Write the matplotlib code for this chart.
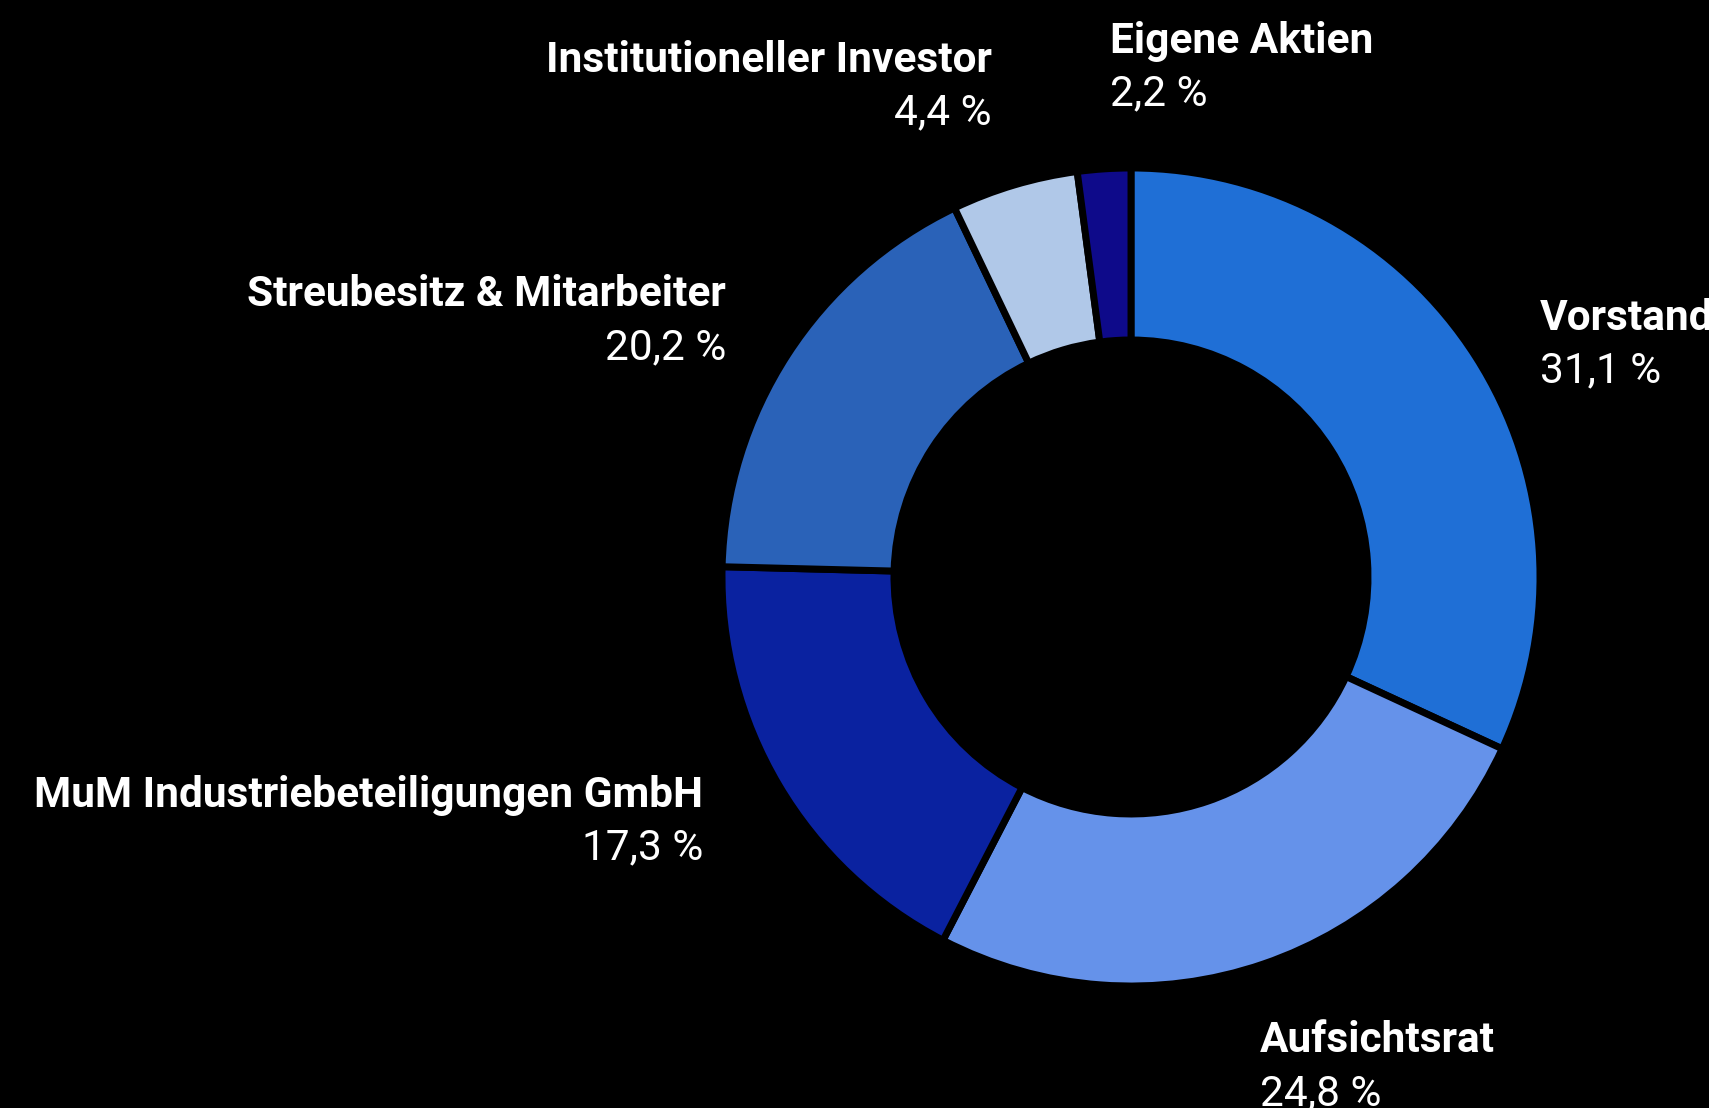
import matplotlib.pyplot as plt

plt.rcParams['font.family'] = ['Roboto', 'DejaVu Sans']

# shareholder structure, clockwise from 12 o'clock
labels = ['Vorstand', 'Aufsichtsrat', 'MuM Industriebeteiligungen GmbH',
          'Streubesitz & Mitarbeiter', 'Institutioneller Investor', 'Eigene Aktien']
# percentages printed in the labels
values = [31.1, 24.8, 17.3, 20.2, 4.4, 2.2]
# wedge sizes as actually drawn in the source chart (measured from the arcs)
drawn_shares = [31.9, 25.7, 17.8, 17.5, 5.0, 2.1]
colors = ['#1f6fd6', '#6592ea', '#0a22a0', '#2a62b8', '#b0c8e8', '#0e0a8a']

# label anchors in pixels (x, y from top) and alignment
label_pos = [(1540, 318, 'left'), (1260, 1041, 'left'), (703, 795, 'right'),
             (726, 295, 'right'), (992, 60, 'right'), (1110, 41, 'left')]

W, H = 1709, 1108
fig = plt.figure(figsize=(W / 100, H / 100), dpi=100, facecolor='black')
ax = fig.add_axes([0, 0, 1, 1])
ax.set_facecolor('black')

ax.pie(drawn_shares, colors=colors, startangle=90, counterclock=False,
       center=(1131, H - 577), radius=409, frame=True,
       wedgeprops=dict(width=172, edgecolor='black', linewidth=5))
ax.set_xlim(0, W)
ax.set_ylim(0, H)
ax.set_aspect('equal')
ax.axis('off')

for name, val, (x, y, ha) in zip(labels, values, label_pos):
    ax.text(x, H - y, name, color='white', fontsize=30.5, fontweight='bold',
            ha=ha, va='center')
    ax.text(x, H - y - 53, f'{val:.1f} %'.replace('.', ','), color='white',
            fontsize=30.5, ha=ha, va='center')

fig.savefig('out.png', dpi=100, facecolor='black')
